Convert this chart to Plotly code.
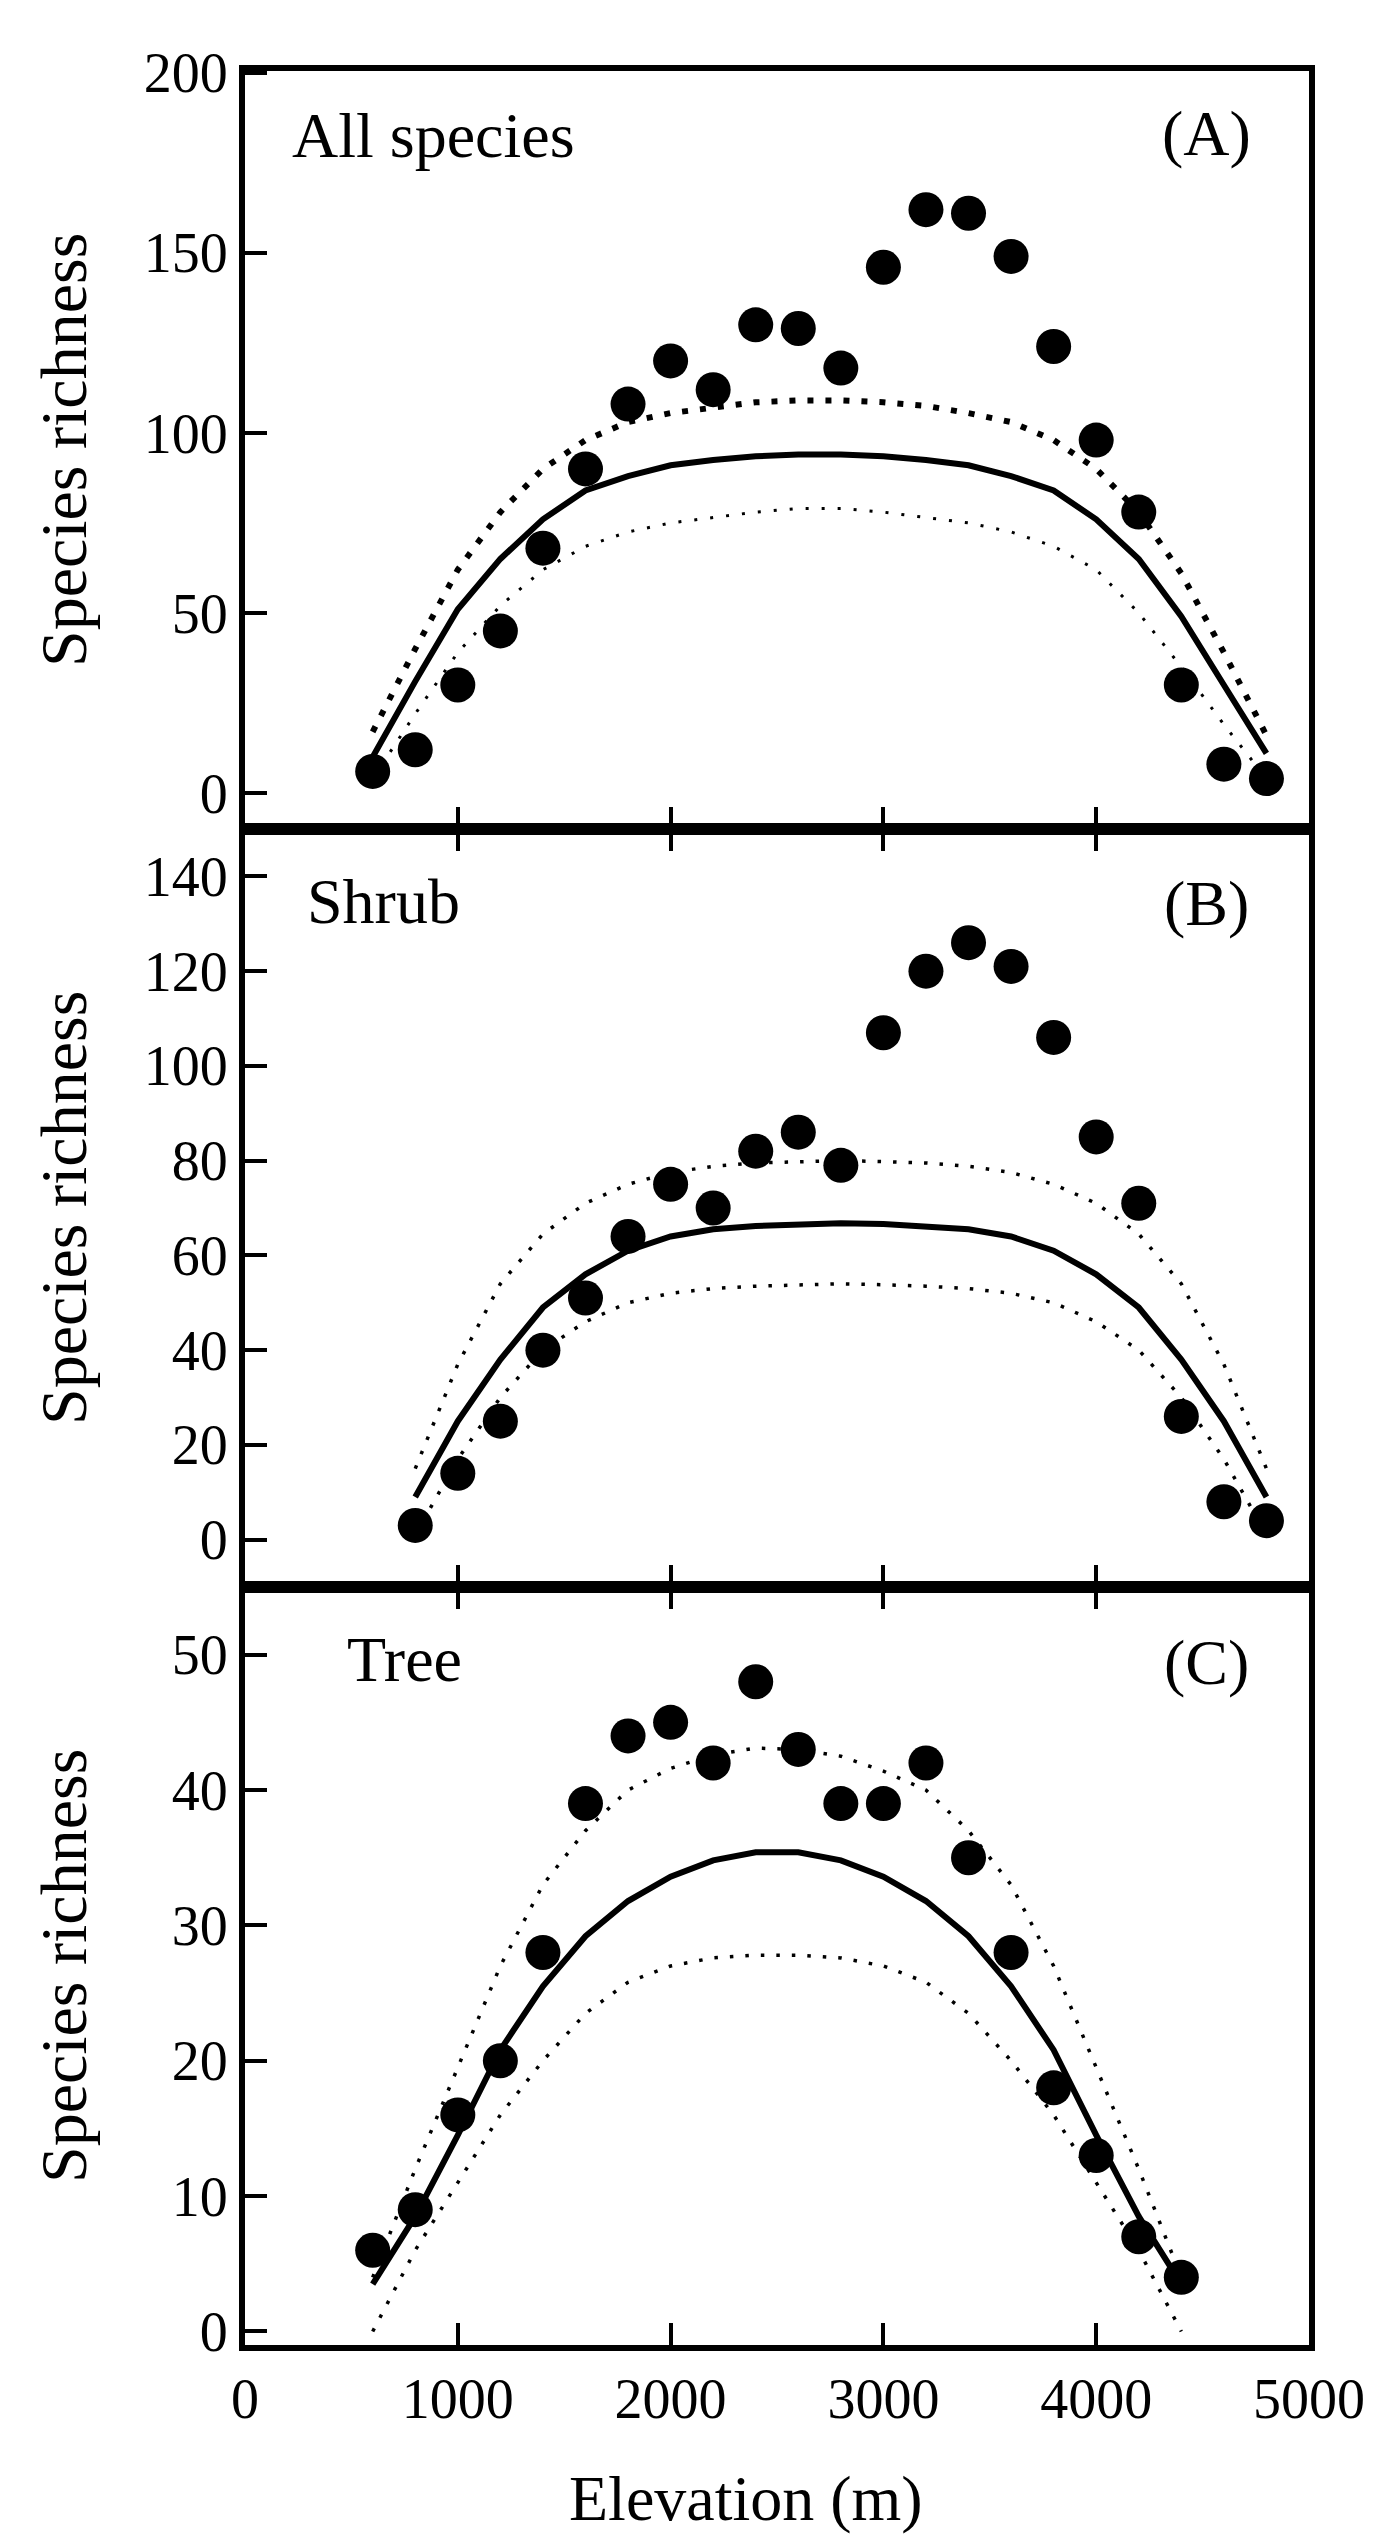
import plotly.graph_objs as go
from plotly.subplots import make_subplots

# elevation bands (m)
elev_all = [600, 800, 1000, 1200, 1400, 1600, 1800, 2000, 2200, 2400, 2600,
            2800, 3000, 3200, 3400, 3600, 3800, 4000, 4200, 4400, 4600, 4800]
elev_shrub = [800, 1000, 1200, 1400, 1600, 1800, 2000, 2200, 2400, 2600,
              2800, 3000, 3200, 3400, 3600, 3800, 4000, 4200, 4400, 4600, 4800]
elev_tree = [600, 800, 1000, 1200, 1400, 1600, 1800, 2000, 2200, 2400,
             2600, 2800, 3000, 3200, 3400, 3600, 3800, 4000, 4200, 4400]

# (A) all species
obs_all = [6, 12, 30, 45, 68, 90, 108, 120, 112, 130, 129,
           118, 146, 162, 161, 149, 124, 98, 78, 30, 8, 4]
mde_all = [10, 31, 51, 65, 76, 84, 88, 91, 92.5, 93.5, 94,
           94, 93.5, 92.5, 91, 88, 84, 76, 65, 49, 30, 11]
upper_all = [17, 40, 62, 78, 90, 98, 103, 105.5, 107, 108.5, 109,
             109, 108.5, 107.5, 105.5, 103, 98, 90, 78, 61, 39, 16]
lower_all = [4, 22, 39, 52, 62, 68.5, 72.5, 75, 76.5, 78, 79,
             79, 78, 76.5, 75, 72.5, 68.5, 62, 50, 35, 19, 4]

# (B) shrub
obs_shrub = [3, 14, 25, 40, 51, 64, 75, 70, 82, 86, 79,
             107, 120, 126, 121, 106, 85, 71, 26, 8, 4]
mde_shrub = [9, 25, 38, 49, 56, 61, 64, 65.5, 66.2, 66.6, 66.8,
             66.6, 66.2, 65.5, 64, 61, 56, 49, 38, 25, 9]
upper_shrub = [15, 37, 54, 64.5, 71, 75, 77.5, 78.8, 79.5, 79.8, 80,
               79.8, 79.5, 78.8, 77.5, 75, 71, 64.5, 54, 37, 15]
lower_shrub = [1, 17, 30, 40, 46, 50, 52, 53, 53.5, 53.8, 54,
               53.8, 53.5, 53, 52, 50, 46, 40, 30, 17, 1]

# (C) tree
obs_tree = [6, 9, 16, 20, 28, 39, 44, 45, 42, 48,
            43, 39, 39, 42, 35, 28, 18, 13, 7, 4]
mde_tree = [3.5, 8.5, 14.5, 20.8, 25.5, 29.2, 31.8, 33.6, 34.8, 35.4,
            35.4, 34.8, 33.6, 31.8, 29.2, 25.5, 20.8, 14.5, 8.5, 3.5]
upper_tree = [4, 12, 19.5, 27, 33, 37, 40, 41.6, 42.6, 43.1,
              43, 42.5, 41.4, 40, 37, 33, 27, 19.5, 12, 4]
lower_tree = [0, 6, 11, 16, 20, 23.5, 25.8, 27, 27.6, 27.8,
              27.8, 27.6, 27, 25.8, 23.5, 20, 16, 11, 6, 0]

panels = [
    (elev_all, obs_all, mde_all, upper_all, lower_all),
    (elev_shrub, obs_shrub, mde_shrub, upper_shrub, lower_shrub),
    (elev_tree, obs_tree, mde_tree, upper_tree, lower_tree),
]
y_ranges = [[-10, 200.5], [-10, 150], [-1, 55]]
y_ticks = [[0, 50, 100, 150, 200],
           [0, 20, 40, 60, 80, 100, 120, 140],
           [0, 10, 20, 30, 40, 50]]
x_ticks = [0, 1000, 2000, 3000, 4000, 5000]
group_names = ["All species", "Shrub", "Tree"]
panel_tags = ["(A)", "(B)", "(C)"]

FONT = "Liberation Serif"

fig = make_subplots(rows=3, cols=1, vertical_spacing=0)

# dotted styles: panel A upper band is drawn heavier
upper_style = [dict(width=6, dash="6px,12px"), dict(width=3.5, dash="3.5px,12px"), dict(width=3.5, dash="3.5px,12px")]
lower_style = [dict(width=3, dash="3px,13px"), dict(width=3.5, dash="3.5px,12px"), dict(width=3.5, dash="3.5px,12px")]

for i, (ex, obs, mde, up, lo) in enumerate(panels):
    r = i + 1
    fig.add_trace(go.Scatter(x=ex, y=up, mode='lines', line=dict(color='black', **upper_style[i])), row=r, col=1)
    fig.add_trace(go.Scatter(x=ex, y=lo, mode='lines', line=dict(color='black', **lower_style[i])), row=r, col=1)
    fig.add_trace(go.Scatter(x=ex, y=mde, mode='lines', line=dict(color='black', width=6)), row=r, col=1)
    fig.add_trace(go.Scatter(x=ex, y=obs, mode='markers', marker=dict(color='black', size=35)), row=r, col=1)

    # non-breaking spaces keep the labels clear of the axis line
    fig.update_yaxes(range=y_ranges[i], tickvals=y_ticks[i], ticks='inside', ticklen=22, tickwidth=4,
                     tickcolor='black', showline=True, linewidth=6, linecolor='black', mirror=True,
                     showgrid=False, zeroline=False, ticksuffix="\u00a0\u00a0",
                     tickfont=dict(family=FONT, size=56, color='black'), row=r, col=1)
    fig.update_xaxes(range=[0, 5000], tickvals=x_ticks, ticks='inside', ticklen=22, tickwidth=4,
                     tickcolor='black', showline=True, linewidth=6, linecolor='black',
                     mirror=True if i == 0 else 'ticks', showgrid=False, zeroline=False,
                     showticklabels=(i == 2),
                     tickfont=dict(family=FONT, size=56, color='black'), row=r, col=1)

    xd = 'x domain' if i == 0 else f'x{r} domain'
    yd = 'y domain' if i == 0 else f'y{r} domain'
    name_x = [0.042, 0.056, 0.094][i]
    name_y = [0.915, 0.904, 0.905][i]
    fig.add_annotation(text=group_names[i], xref=xd, yref=yd, x=name_x, y=name_y,
                       xanchor='left', yanchor='middle', showarrow=False,
                       font=dict(family=FONT, size=64, color='black'))
    fig.add_annotation(text=panel_tags[i], xref=xd, yref=yd, x=0.904, y=[0.917, 0.902, 0.9][i],
                       xanchor='center', yanchor='middle', showarrow=False,
                       font=dict(family=FONT, size=64, color='black'))
    fig.add_annotation(text="Species richness", xref='paper', yref=yd, x=-0.171, y=0.5,
                       xanchor='center', yanchor='middle', textangle=-90, showarrow=False,
                       font=dict(family=FONT, size=66, color='black'))

fig.add_annotation(text="Elevation (m)", xref='paper', yref='paper', x=0.471, y=-0.0673,
                   xanchor='center', yanchor='middle', showarrow=False,
                   font=dict(family=FONT, size=64, color='black'))

fig.update_layout(width=1388, height=2540, showlegend=False,
                  plot_bgcolor='white', paper_bgcolor='white',
                  margin=dict(l=237, r=87, t=63, b=203))

fig.write_html("out.html")
